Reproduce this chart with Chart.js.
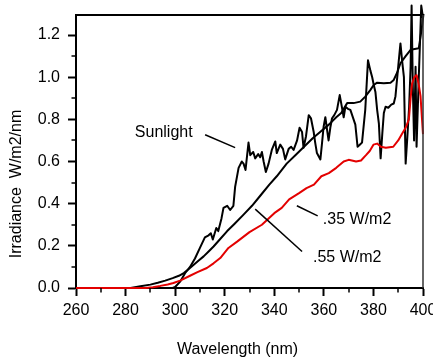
<!DOCTYPE html>
<html>
<head>
<meta charset="utf-8">
<script src="https://cdn.jsdelivr.net/npm/chart.js@4/dist/chart.umd.min.js"></script>
<style>
  html, body { margin: 0; padding: 0; background: #fff; }
  #wrap { width: 433px; height: 358px; }
</style>
</head>
<body>
<div id="wrap"><canvas id="chart" width="433" height="358"></canvas></div>
<script>
// --- data ---
const xTicks = [260, 280, 300, 320, 340, 360, 380, 400];
const xMinor = [270, 290, 310, 330, 350, 370, 390];
const yTicks = [0, 0.2, 0.4, 0.6, 0.8, 1.0, 1.2];
const yMinor = [0.1, 0.3, 0.5, 0.7, 0.9, 1.1];

// Sunlight (noisy black)
const sunWl = [260, 299, 300, 302, 304, 306, 308, 310, 312, 313.5, 314.4, 315.2, 316.6, 317.4, 318.7, 319.5,
  321, 322.2, 323.5, 324.2, 325.6, 326.9, 327.6, 328.4, 329.6, 330.3, 331.5, 332.3, 333.5, 334.3, 335,
  335.7, 336.6, 337.7, 339, 340.4, 341, 342.4, 343.5, 344.4, 345.8, 346.8, 347.8, 349.2, 350.2, 351.2,
  351.8, 352.8, 353.9, 354.8, 355.9, 356.5, 357.2, 358.6, 359.2, 359.9, 360.6, 361.3, 361.9, 362.6,
  363.3, 364.2, 365.3, 366.4, 367.1, 368, 368.7, 369.7, 370.7, 372.7, 373.6, 374.5, 375.4, 376.7,
  377.8, 378.8, 379.5, 380.1, 380.8, 381.5, 382.2, 382.9, 383.6, 384.2, 384.9, 386, 387.2, 388.2,
  388.9, 390.2, 390.9, 391.6, 392.3, 393, 393.6, 394.4, 395, 395.4, 395.9, 396.4, 397, 397.4, 398.3,
  399.3, 400];
const sunIrr = [0, 0, 0.005, 0.03, 0.07, 0.10, 0.14, 0.19, 0.24, 0.25, 0.26, 0.23, 0.285, 0.27, 0.33, 0.38,
  0.39, 0.37, 0.39, 0.48, 0.57, 0.60, 0.59, 0.56, 0.69, 0.63, 0.645, 0.615, 0.635, 0.62, 0.645,
  0.60, 0.55, 0.59, 0.655, 0.695, 0.64, 0.68, 0.66, 0.61, 0.66, 0.67, 0.655, 0.70, 0.76, 0.74,
  0.665, 0.72, 0.82, 0.805, 0.74, 0.69, 0.64, 0.61, 0.68, 0.765, 0.81, 0.75, 0.70, 0.76,
  0.805, 0.82, 0.845, 0.915, 0.87, 0.81, 0.86, 0.85, 0.845, 0.775, 0.67, 0.68, 0.69, 0.845,
  1.08, 1.03, 1.00, 0.965, 0.93, 0.845, 0.78, 0.615, 0.735, 0.83, 0.86, 0.855, 0.87, 0.875,
  0.91, 1.075, 1.16, 1.075, 1.00, 0.59, 0.70, 0.86, 1.05, 1.34, 0.95, 0.70, 1.05, 0.67, 1.0,
  1.34, 1.28];

// .55 W/m2 (smooth black)
const w55Wl = [260, 282, 286, 290, 293, 296, 299, 301.5, 303.5, 305.5, 307.5, 309.5, 311.5, 313.5, 315.5,
  318, 321, 324, 327.5, 331, 334.5, 338, 341, 345, 348.5, 352, 355.5, 358.5, 362, 365, 367, 369.4,
  372, 374.7, 376.7, 378.8, 380.1, 381.5, 384.2, 386.9, 388.2, 389.5, 390.9, 393, 395, 398.3, 399.6, 400.2];
const w55Irr = [0, 0, 0.008, 0.016, 0.025, 0.035, 0.047, 0.058, 0.071, 0.09, 0.11, 0.13, 0.15, 0.173, 0.197,
  0.23, 0.27, 0.305, 0.347, 0.39, 0.44, 0.49, 0.53, 0.59, 0.63, 0.67, 0.71, 0.74, 0.775, 0.81, 0.83, 0.877,
  0.877, 0.884, 0.908, 0.94, 0.963, 0.974, 0.971, 0.974, 0.987, 1.02, 1.066, 1.10, 1.13, 1.137, 1.24, 1.30];

// .35 W/m2 (red)
const w35Wl = [260, 288, 291, 294, 297, 299.3, 302, 306, 309, 312.8, 315.5, 318.2, 321.5, 325, 330, 335,
  340, 343, 346, 350, 353, 356, 359, 362, 365, 368, 370, 373, 375, 377, 378.5, 380, 381.5, 383, 385,
  388, 390, 391.5, 393, 394.3, 395, 395.6, 396.5, 397.4, 398.2, 399, 400];
const w35Irr = [0, 0, 0.004, 0.01, 0.017, 0.024, 0.035, 0.058, 0.075, 0.095, 0.117, 0.142, 0.19, 0.22, 0.265,
  0.30, 0.355, 0.38, 0.42, 0.45, 0.474, 0.49, 0.53, 0.545, 0.57, 0.60, 0.608, 0.60, 0.605, 0.63, 0.65,
  0.68, 0.685, 0.67, 0.665, 0.67, 0.70, 0.73, 0.76, 0.80, 0.90, 0.97, 1.00, 1.01, 0.97, 0.91, 0.73];

// callout labels, placed in data units
const notes = [
  { text: 'Sunlight', at: [295.4, 0.736], align: 'center', from: [312.1, 0.727], to: [324.2, 0.666] },
  { text: '.35 W/m2', at: [359.6, 0.324], align: 'left', from: [357.5, 0.342], to: [349.1, 0.39] },
  { text: '.55 W/m2', at: [355.6, 0.142], align: 'left', from: [351.2, 0.173], to: [332.3, 0.374] }
];

const FONT = "16px 'Liberation Sans', Arial, Helvetica, sans-serif";
const pairs = (xs, ys) => xs.map((x, i) => ({ x: x, y: ys[i] }));

const extras = {
  id: 'extras',
  afterDraw(chart) {
    const { ctx, chartArea: a, scales: { x, y } } = chart;
    ctx.save();
    ctx.strokeStyle = '#000';
    ctx.lineCap = 'butt';

    // minor ticks
    ctx.lineWidth = 1.5;
    ctx.beginPath();
    xMinor.forEach(v => {
      const px = Math.round(x.getPixelForValue(v));
      ctx.moveTo(px, a.bottom); ctx.lineTo(px, a.bottom + 4.5);
    });
    yMinor.forEach(v => {
      const py = Math.round(y.getPixelForValue(v));
      ctx.moveTo(a.left, py); ctx.lineTo(a.left - 4.5, py);
    });
    ctx.stroke();

    // top and right frame
    ctx.lineWidth = 2;
    ctx.beginPath();
    ctx.moveTo(a.left - 1, a.top); ctx.lineTo(a.right, a.top);
    ctx.stroke();
    ctx.lineWidth = 1.5;
    ctx.strokeStyle = '#333';
    ctx.beginPath();
    ctx.moveTo(a.right, a.top); ctx.lineTo(a.right, a.bottom);
    ctx.stroke();

    // callouts
    ctx.strokeStyle = '#000';
    ctx.fillStyle = '#000';
    ctx.font = FONT;
    ctx.textBaseline = 'middle';
    ctx.lineWidth = 1.5;
    notes.forEach(n => {
      ctx.beginPath();
      ctx.moveTo(x.getPixelForValue(n.from[0]), y.getPixelForValue(n.from[1]));
      ctx.lineTo(x.getPixelForValue(n.to[0]), y.getPixelForValue(n.to[1]));
      ctx.stroke();
      ctx.textAlign = n.align;
      ctx.fillText(n.text, x.getPixelForValue(n.at[0]), y.getPixelForValue(n.at[1]));
    });

    // axis titles
    ctx.textAlign = 'center';
    ctx.fillText('Wavelength (nm)', 237.5, 350);
    ctx.translate(17, 184);
    ctx.rotate(-Math.PI / 2);
    ctx.fillText('Irradiance  W/m2/nm', 0, 0);
    ctx.restore();
  }
};

new Chart(document.getElementById('chart'), {
  type: 'line',
  data: {
    datasets: [
      { label: '.35 W/m2', data: pairs(w35Wl, w35Irr), borderColor: '#e30000', borderWidth: 2 },
      { label: '.55 W/m2', data: pairs(w55Wl, w55Irr), borderColor: '#000', borderWidth: 2 },
      { label: 'Sunlight', data: pairs(sunWl, sunIrr), borderColor: '#000', borderWidth: 2 }
    ]
  },
  options: {
    responsive: false,
    animation: false,
    clip: false,
    layout: { padding: { left: 0, right: 10, top: 15, bottom: 0 } },
    elements: {
      point: { radius: 0 },
      line: { tension: 0, borderJoinStyle: 'round', fill: false }
    },
    plugins: { legend: { display: false }, tooltip: { enabled: false } },
    scales: {
      x: {
        type: 'linear', min: 260, max: 400,
        afterBuildTicks: s => { s.ticks = xTicks.map(v => ({ value: v })); },
        afterFit: s => { s.height = 70; s.paddingLeft = 0; s.paddingRight = 0; },
        grid: { drawOnChartArea: false, drawTicks: true, tickLength: 8, tickWidth: 2, tickColor: '#000' },
        border: { display: true, color: '#000', width: 2 },
        ticks: { color: '#000', padding: 5, font: { family: "'Liberation Sans', Arial", size: 16 }, maxRotation: 0 }
      },
      y: {
        min: 0, max: 1.295,
        afterBuildTicks: s => { s.ticks = yTicks.map(v => ({ value: v })); },
        afterFit: s => { s.width = 76; s.paddingTop = 0; s.paddingBottom = 0; },
        grid: { drawOnChartArea: false, drawTicks: true, tickLength: 8, tickWidth: 2, tickColor: '#000' },
        border: { display: true, color: '#000', width: 2 },
        ticks: { color: '#000', padding: 8, font: { family: "'Liberation Sans', Arial", size: 16 },
          callback: v => Number(v).toFixed(1) }
      }
    }
  },
  plugins: [extras]
});
</script>
</body>
</html>
